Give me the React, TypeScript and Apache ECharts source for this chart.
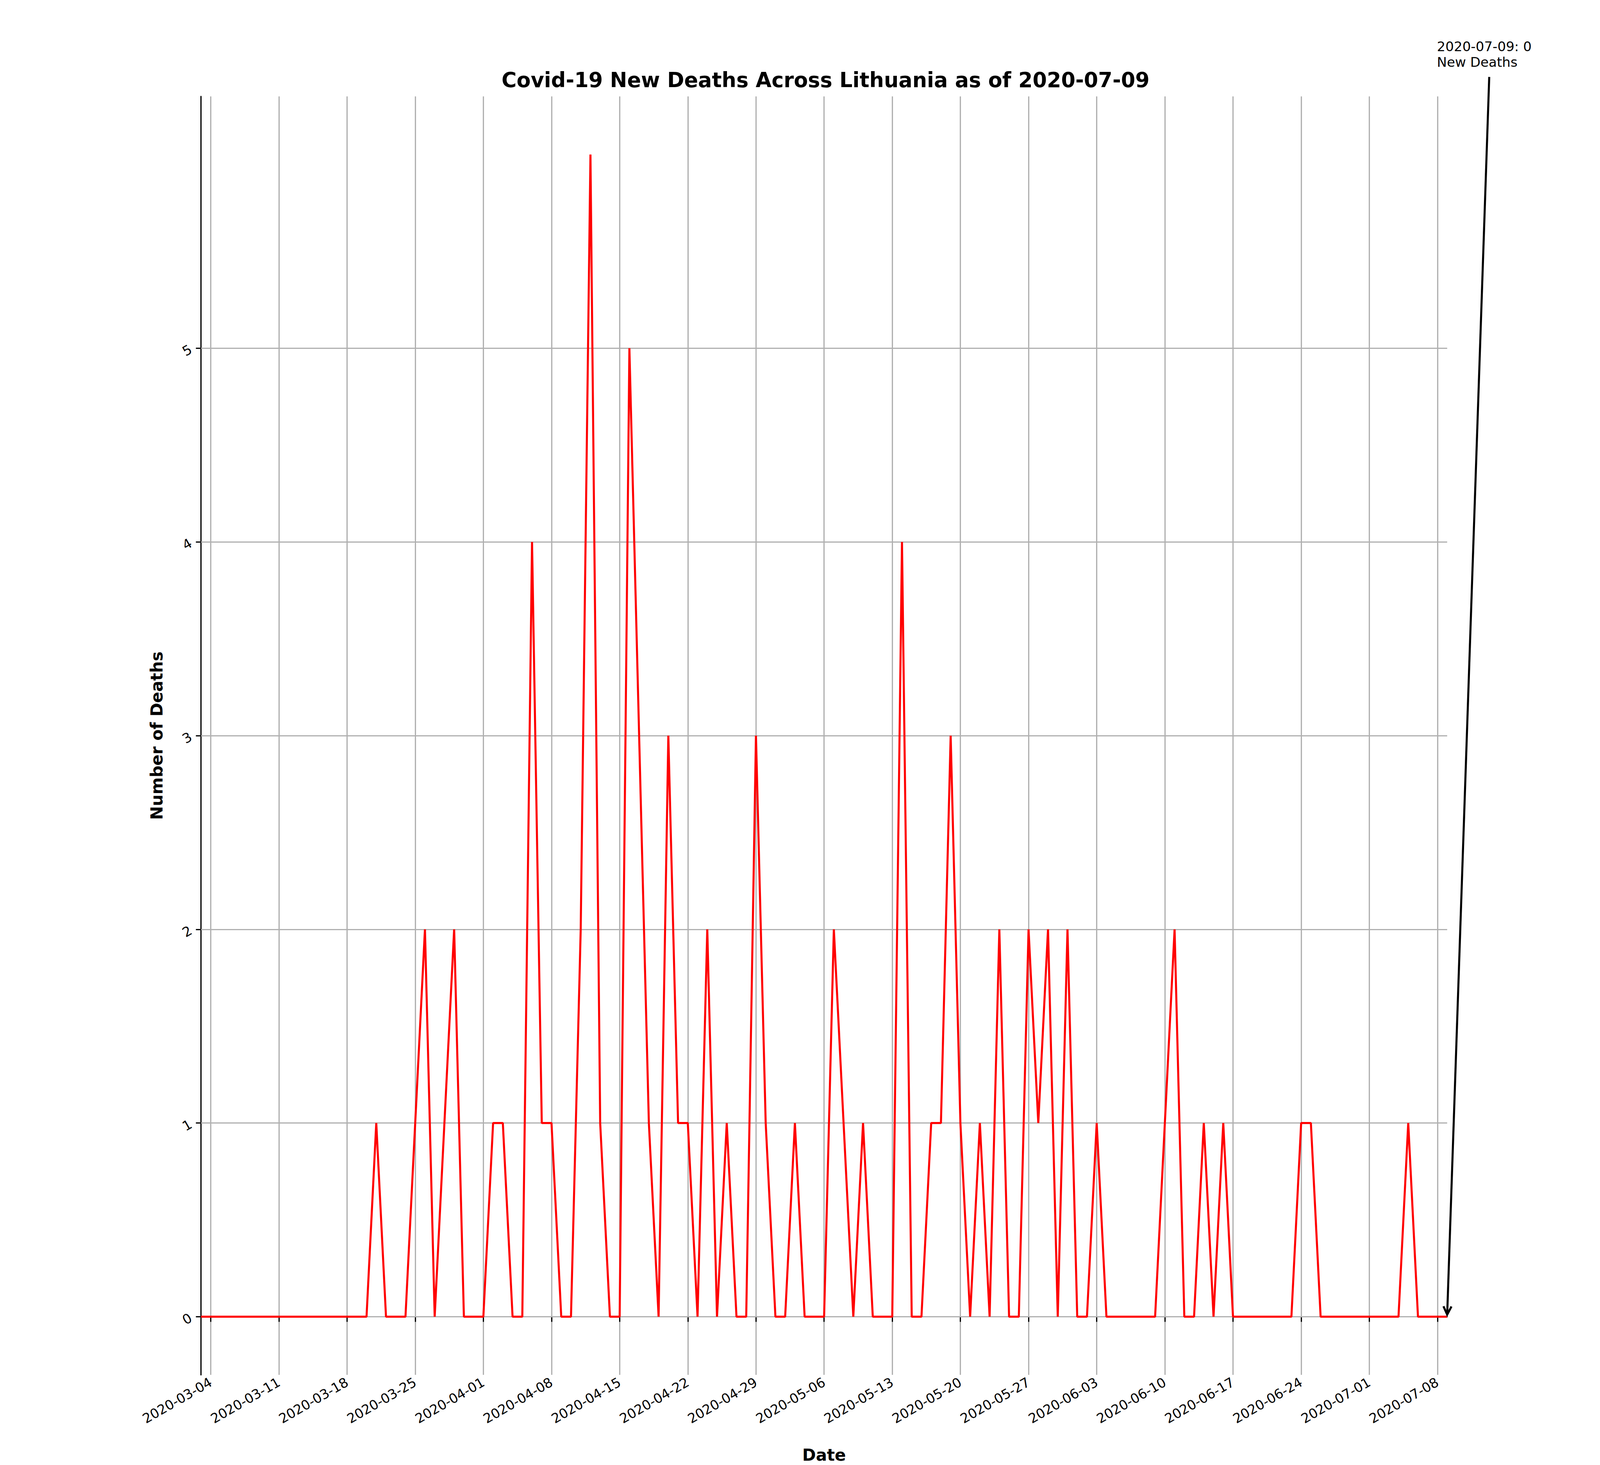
import React, { useRef, useEffect } from "react";
import * as echarts from "echarts";

// daily new deaths, 2020-03-03 .. 2020-07-09
const startDate = "2020-03-03";
const newDeaths = [
  0, 0, 0, 0, 0, 0, 0, 0, 0, 0, 0, 0, 0, 0, 0, 0, 0, 0, // 03-03 .. 03-20
  1, 0, 0, 0, 1, 2, 0, 1, 2, 0, 0, 0, 1, 1, 0, // 03-21 .. 04-04
  0, 4, 1, 1, 0, 0, 2, 6, 1, 0, 0, 5, 3, 1, 0, 3, 1, 1, 0, 2, 0, 1, 0, 0, 3, 1, 0, 0, 1, 0, 0, // 04-05 .. 05-05
  0, 2, 1, 0, 1, 0, 0, 0, 4, 0, 0, 1, 1, 3, 1, 0, 1, 0, 2, 0, 0, 2, 1, 2, 0, 2, 0, 0, 1, 0, // 05-06 .. 06-04
  0, 0, 0, 0, 0, 1, 2, 0, 0, 1, 0, 1, 0, 0, 0, 0, 0, 0, 0, 1, 1, 0, 0, 0, 0, 0, 0, 0, 0, 0, 1, 0, 0, 0, 0, // 06-05 .. 07-09
];
const yTicks = [0, 1, 2, 3, 4, 5];

function buildDates(start: string, n: number): string[] {
  const out: string[] = [];
  const d = new Date(start + "T00:00:00Z");
  for (let i = 0; i < n; i++) {
    out.push(d.toISOString().slice(0, 10));
    d.setUTCDate(d.getUTCDate() + 1);
  }
  return out;
}

const values = newDeaths;
const dates = buildDates(startDate, values.length);
const lastDate = dates[dates.length - 1];
const weekly = (i: number) => i % 7 === 1;

const FONT = "DejaVu Sans";

const App = () => {
  const chartRef = useRef<HTMLDivElement>(null);

  useEffect(() => {
    const chart = echarts.init(chartRef.current, null, { renderer: "svg" });
    // layout measured on a 1560-wide reference
    const s = chart.getWidth() / 1560;
    chart.setOption({
      animation: false,
      backgroundColor: "#fff",
      textStyle: { fontFamily: FONT },
      title: {
        text: `Covid-19 New Deaths Across Lithuania as of ${lastDate}`,
        left: 803 * s,
        textAlign: "center",
        top: 66 * s,
        textStyle: { fontSize: 20 * s, fontWeight: "bold", color: "#000", fontFamily: FONT },
      },
      grid: { left: 196 * s, right: (1560 - 1411) * s, top: 94 * s, bottom: (780 - 698) * s },
      xAxis: {
        type: "category",
        data: dates,
        boundaryGap: false,
        name: "Date",
        nameLocation: "middle",
        nameGap: 70 * s,
        nameTextStyle: { fontSize: 16 * s, fontWeight: "bold", color: "#000", fontFamily: FONT },
        axisLine: { lineStyle: { color: "#000", width: 1.2 * s } },
        axisTick: { interval: (i: number) => weekly(i), length: 5 * s, lineStyle: { color: "#000", width: 1.2 * s } },
        axisLabel: {
          interval: (i: number) => weekly(i),
          rotate: 30,
          fontSize: 13 * s,
          color: "#000",
          margin: 6 * s,
          fontFamily: FONT,
        },
        splitLine: { show: true, interval: (i: number) => weekly(i), lineStyle: { color: "#b0b0b0", width: 1.2 * s } },
      },
      yAxis: {
        type: "value",
        min: -0.3,
        max: 6.3,
        name: "Number of Deaths",
        nameLocation: "middle",
        nameGap: 35 * s,
        nameTextStyle: { fontSize: 16 * s, fontWeight: "bold", color: "#000", fontFamily: FONT },
        axisLine: { show: true, lineStyle: { color: "#000", width: 1.2 * s } },
        axisTick: { show: true, customValues: yTicks, length: 5 * s, lineStyle: { color: "#000", width: 1.2 * s } },
        axisLabel: { customValues: yTicks, fontSize: 13 * s, color: "#000", margin: 10 * s, rotate: 30, fontFamily: FONT },
        splitLine: { show: false },
      },
      series: [
        {
          type: "line",
          data: values,
          showSymbol: false,
          lineStyle: { color: "#ff0000", width: 2 * s },
          z: 3,
          markLine: {
            silent: true,
            symbol: "none",
            label: { show: false },
            lineStyle: { color: "#b0b0b0", width: 1.2 * s, type: "solid" },
            data: yTicks.map((v) => ({ yAxis: v })),
            z: 1,
          },
        },
      ],
    });

    // matplotlib-style annotation on the last point
    const end = chart.convertToPixel({ seriesIndex: 0 }, [values.length - 1, values[values.length - 1]]) as number[];
    const sx = 1452 * s, sy = 75 * s;
    const ex = end[0], ey = end[1] - 2 * s;
    const ang = Math.atan2(ey - sy, ex - sx);
    const hl = 9 * s, hw = 0.45;
    chart.setOption({
      graphic: [
        {
          type: "text",
          left: 1401 * s,
          top: 38 * s,
          style: { text: `${lastDate}: ${values[values.length - 1]}\nNew Deaths`, fontSize: 13 * s, fill: "#000", fontFamily: FONT, lineHeight: 15 * s },
        },
        { type: "line", shape: { x1: sx, y1: sy, x2: ex, y2: ey }, style: { stroke: "#000", lineWidth: 2 * s }, z: 10 },
        {
          type: "polyline",
          shape: {
            points: [
              [ex - hl * Math.cos(ang - hw), ey - hl * Math.sin(ang - hw)],
              [ex, ey],
              [ex - hl * Math.cos(ang + hw), ey - hl * Math.sin(ang + hw)],
            ],
          },
          style: { stroke: "#000", lineWidth: 2 * s, fill: "none" },
          z: 10,
        },
      ],
    });
    return () => chart.dispose();
  }, []);

  return <div ref={chartRef} style={{ position: "fixed", left: 0, top: 0, width: "100vw", height: "100vh" }} />;
};

export default App;
